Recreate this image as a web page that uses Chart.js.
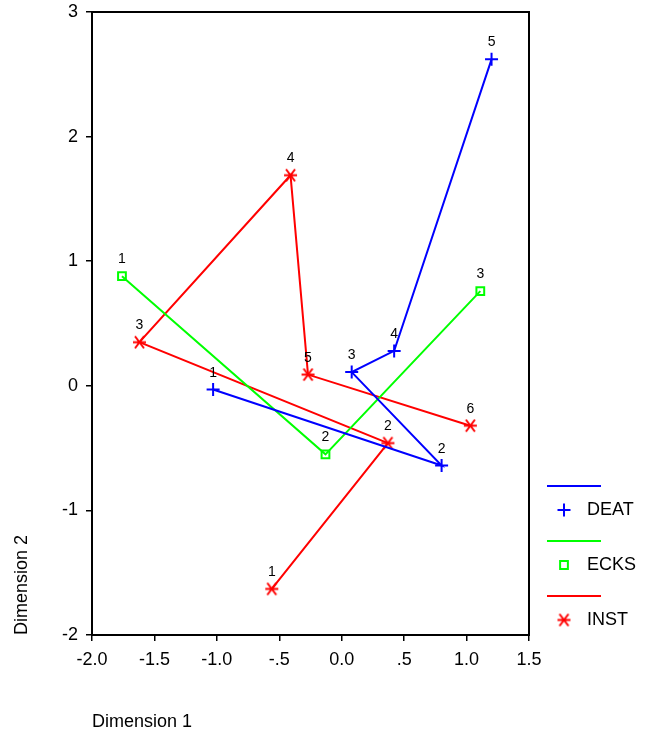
<!DOCTYPE html>
<html>
<head>
<meta charset="utf-8">
<script src="https://cdn.jsdelivr.net/npm/chart.js@4.4.1/dist/chart.umd.min.js"></script>
<style>
  html, body { margin: 0; padding: 0; background: #fff; }
  #wrap { width: 647px; height: 736px; position: relative; }
</style>
</head>
<body>
<div id="wrap"><canvas id="myChart"></canvas></div>
<script>
// datos (Dimension 1, Dimension 2)
const deatX = [-1.03, 0.80, 0.08, 0.42, 1.20];
const deatY = [-0.03, -0.64, 0.11, 0.28, 2.62];
const ecksX = [-1.76, -0.13, 1.11];
const ecksY = [0.88, -0.55, 0.76];
const instX = [-0.56, 0.37, -1.62, -0.41, -0.27, 1.03];
const instY = [-1.63, -0.46, 0.35, 1.69, 0.09, -0.32];

const seriesNames = ["DEAT", "ECKS", "INST"];
const xTickLabels = ["-2.0", "-1.5", "-1.0", "-.5", "0.0", ".5", "1.0", "1.5"];
const yTickLabels = ["-2", "-1", "0", "1", "2", "3"];

const fontFam = "'Liberation Sans', Arial, sans-serif";

function toPoints(xs, ys) {
    return xs.map((x, i) => ({ x: x, y: ys[i] }));
}

// asterisco de 6 brazos para INST
function makeAsterisk(color) {
    const c = document.createElement("canvas");
    c.width = 15;
    c.height = 15;
    const g = c.getContext("2d");
    g.strokeStyle = color;
    g.lineWidth = 2;
    g.beginPath();
    g.moveTo(1, 7.5); g.lineTo(14, 7.5);
    g.moveTo(3, 1.5); g.lineTo(12, 13.5);
    g.moveTo(12, 1.5); g.lineTo(3, 13.5);
    g.stroke();
    return c;
}
const asterisk = makeAsterisk("#ff0000");

// numeros encima de cada punto
const pointLabels = {
    id: "pointLabels",
    afterDatasetsDraw(chart) {
        const ctx = chart.ctx;
        ctx.save();
        ctx.fillStyle = "#000";
        ctx.font = "14px " + fontFam;
        ctx.textAlign = "center";
        ctx.textBaseline = "alphabetic";
        chart.data.datasets.forEach((ds, i) => {
            const meta = chart.getDatasetMeta(i);
            meta.data.forEach((pt, j) => {
                ctx.fillText(String(j + 1), pt.x, pt.y - 13);
            });
        });
        ctx.restore();
    }
};

// marco del area y leyenda a la derecha
const frameAndLegend = {
    id: "frameAndLegend",
    afterDraw(chart) {
        const ctx = chart.ctx;
        const a = chart.chartArea;
        ctx.save();
        ctx.strokeStyle = "#000";
        ctx.lineWidth = 2;
        ctx.strokeRect(a.left, a.top, a.right - a.left, a.bottom - a.top);

        const lx1 = 547, lx2 = 601;
        chart.data.datasets.forEach((ds, i) => {
            const yLine = 486 + i * 55;
            const yMark = yLine + 24;
            ctx.strokeStyle = ds.borderColor;
            ctx.fillStyle = "rgba(0,0,0,0)";
            ctx.lineWidth = 2;
            ctx.beginPath();
            ctx.moveTo(lx1, yLine);
            ctx.lineTo(lx2, yLine);
            ctx.stroke();
            Chart.helpers.drawPoint(ctx, {
                pointStyle: ds.pointStyle,
                radius: ds.pointRadius,
                borderWidth: 2,
                rotation: 0
            }, 564, yMark);
            ctx.fillStyle = "#000";
            ctx.font = "18px " + fontFam;
            ctx.textAlign = "left";
            ctx.textBaseline = "middle";
            ctx.fillText(ds.label, 587, yMark);
        });
        ctx.restore();
    }
};

const ctx = document.getElementById("myChart").getContext("2d");

const myChart = new Chart(ctx, {
    type: "scatter",
    data: {
        datasets: [
            {
                label: seriesNames[0],
                data: toPoints(deatX, deatY),
                showLine: true,
                borderColor: "#0000ff",
                backgroundColor: "#0000ff",
                borderWidth: 2,
                pointStyle: "cross",
                pointRadius: 6.5,
                pointBorderWidth: 2
            },
            {
                label: seriesNames[1],
                data: toPoints(ecksX, ecksY),
                showLine: true,
                borderColor: "#00ff00",
                backgroundColor: "rgba(0,0,0,0)",
                borderWidth: 2,
                pointStyle: "rect",
                pointRadius: 5.5,
                pointBorderWidth: 2
            },
            {
                label: seriesNames[2],
                data: toPoints(instX, instY),
                showLine: true,
                borderColor: "#ff0000",
                backgroundColor: "#ff0000",
                borderWidth: 2,
                pointStyle: asterisk,
                pointRadius: 7,
                pointBorderWidth: 2
            }
        ]
    },
    options: {
        responsive: true,
        maintainAspectRatio: false,
        animation: false,
        layout: { padding: { top: 0, right: 118, left: 0, bottom: 0 } },
        plugins: {
            legend: { display: false },
            tooltip: { enabled: false }
        },
        elements: { line: { tension: 0 } },
        scales: {
            x: {
                type: "linear",
                min: -2,
                max: 1.5,
                afterFit: (scale) => { scale.height = 101; },
                afterBuildTicks: (scale) => {
                    scale.ticks = xTickLabels.map((t, i) => ({ value: -2 + i * 0.5 }));
                },
                ticks: {
                    color: "#000",
                    font: { size: 18, family: fontFam },
                    padding: 8,
                    maxRotation: 0,
                    autoSkip: false,
                    callback: (v, i) => xTickLabels[i]
                },
                grid: { drawOnChartArea: false, color: "#000", lineWidth: 1.5, tickLength: 6 },
                border: { display: true, color: "#000", width: 2 },
                title: {
                    display: true,
                    text: "Dimension 1",
                    align: "start",
                    color: "#000",
                    font: { size: 18, family: fontFam },
                    padding: { top: 0, bottom: 3 }
                }
            },
            y: {
                type: "linear",
                min: -2,
                max: 3,
                afterFit: (scale) => {
                    scale.width = 92;
                    scale.paddingTop = 12;
                    scale.paddingBottom = 0;
                },
                afterBuildTicks: (scale) => {
                    scale.ticks = yTickLabels.map((t, i) => ({ value: -2 + i }));
                },
                ticks: {
                    color: "#000",
                    font: { size: 18, family: fontFam },
                    padding: 8,
                    autoSkip: false,
                    callback: (v, i) => yTickLabels[i]
                },
                grid: { drawOnChartArea: false, color: "#000", lineWidth: 1.5, tickLength: 6 },
                border: { display: true, color: "#000", width: 2 },
                title: {
                    display: true,
                    text: "Dimension 2",
                    align: "start",
                    color: "#000",
                    font: { size: 18, family: fontFam },
                    padding: { top: 11, bottom: 0 }
                }
            }
        }
    },
    plugins: [pointLabels, frameAndLegend]
});
</script>
</body>
</html>
